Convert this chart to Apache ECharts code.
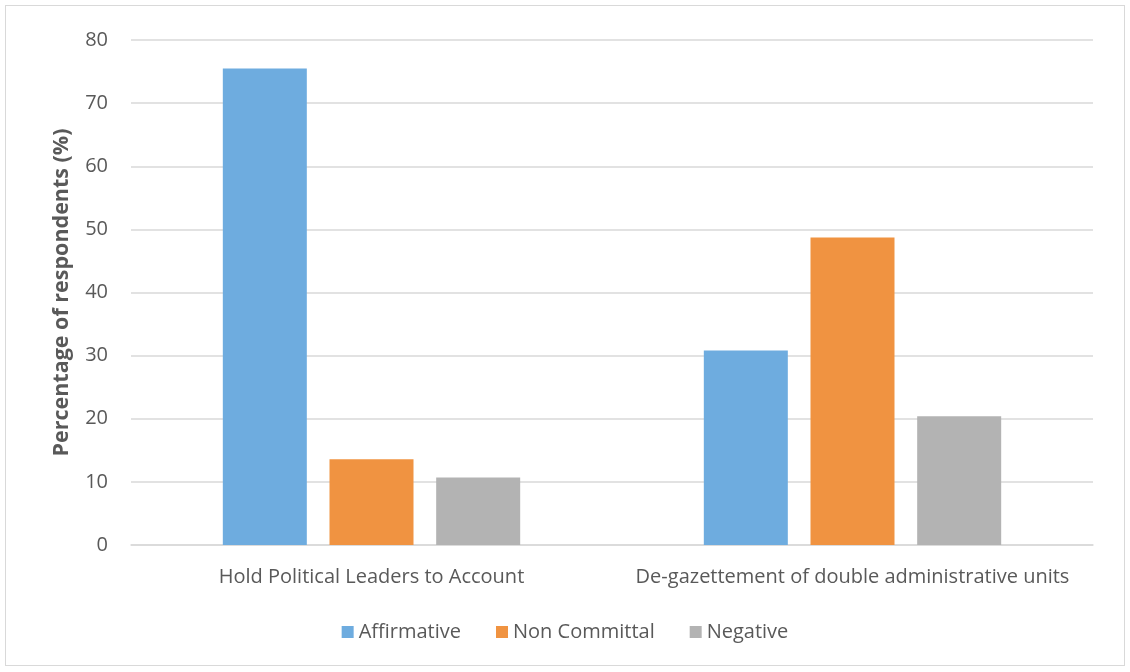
<!DOCTYPE html>
<html>
<head>
<meta charset="utf-8">
<script src="https://cdn.jsdelivr.net/npm/echarts@6/dist/echarts.min.js"></script>
<style>
  html, body { margin: 0; padding: 0; background: #fff; }
  #frame { position: absolute; left: 5px; top: 5px; width: 1120px; height: 661px; border: 1.5px solid #d9d9d9; box-sizing: border-box; }
  #chart { position: absolute; left: 0; top: 0; width: 1130px; height: 672px; }
</style>
</head>
<body>
<div id="frame"></div>
<div id="chart"></div>
<script>
// Survey responses per question, percent of respondents
const categories = ['Hold Political Leaders to Account', 'De-gazettement of double administrative units'];
const affirmative = [75.5, 30.8];
const nonCommittal = [13.6, 48.7];
const negative = [10.7, 20.4];
const yTicks = { min: 0, max: 80, interval: 10 };

const FONT = 'Open Sans';
const chart = echarts.init(document.getElementById('chart'), null, { renderer: 'canvas' });

function bar(name, data, color) {
  return {
    name, type: 'bar', data,
    barWidth: 84, barGap: '27%',
    itemStyle: { color },
    emphasis: { disabled: true }
  };
}

chart.setOption({
  animation: false,
  textStyle: { fontFamily: FONT },
  grid: { left: 131, right: 37, top: 40, bottom: 127, containLabel: false },
  legend: {
    bottom: 25, left: 'center',
    itemWidth: 12, itemHeight: 12, itemGap: 35, itemSpacing: 6,
    icon: 'rect',
    textStyle: { fontFamily: FONT, fontSize: 20, color: '#595959' },
    data: ['Affirmative', 'Non Committal', 'Negative']
  },
  xAxis: {
    type: 'category', data: categories,
    axisLine: { lineStyle: { color: '#d9d9d9', width: 1.5 } },
    axisTick: { show: false },
    axisLabel: { fontFamily: FONT, fontSize: 20, color: '#595959', margin: 22, interval: 0 }
  },
  yAxis: {
    type: 'value', min: yTicks.min, max: yTicks.max, interval: yTicks.interval,
    name: 'Percentage of respondents (%)',
    nameLocation: 'middle', nameGap: 58,
    nameTextStyle: { fontFamily: FONT, fontSize: 21.5, fontWeight: 'bold', color: '#595959' },
    axisLine: { show: false }, axisTick: { show: false },
    axisLabel: { fontFamily: FONT, fontSize: 20, color: '#595959', margin: 23 },
    splitLine: { lineStyle: { color: '#d9d9d9', width: 1.5 } }
  },
  series: [
    bar('Affirmative', affirmative, '#6eacdf'),
    bar('Non Committal', nonCommittal, '#f09341'),
    bar('Negative', negative, '#b3b3b3')
  ]
});
</script>
</body>
</html>
